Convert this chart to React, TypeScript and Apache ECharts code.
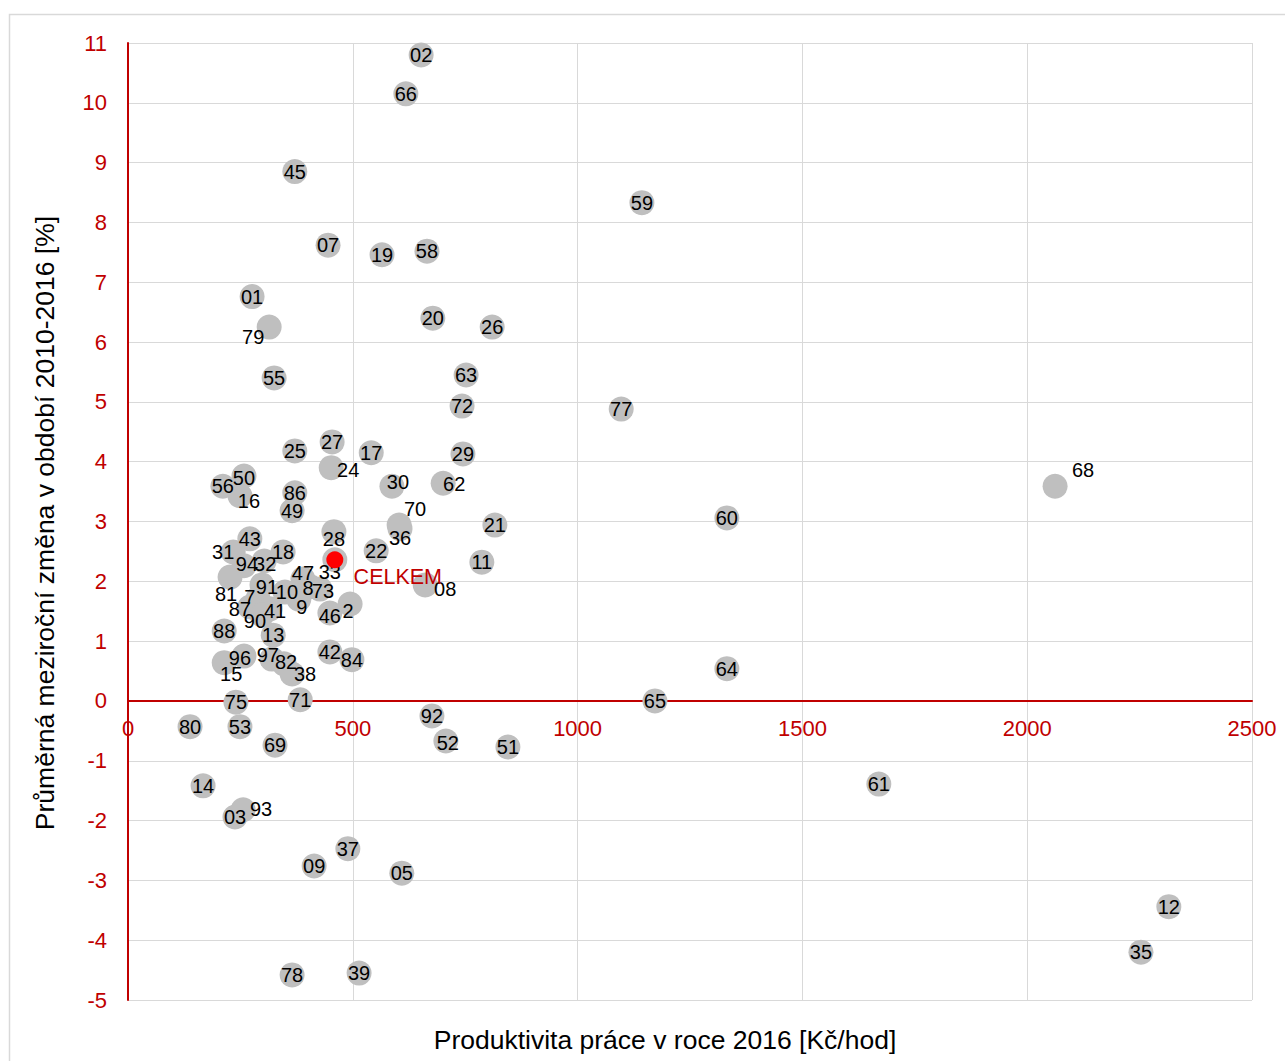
import React, { useEffect, useRef } from "react";
import * as echarts from "echarts";

// Region codes and values (x: productivity 2016 [Kč/hod], y: avg yearly change 2010-2016 [%])
const codes = [
  "02", "66", "45", "59", "07", "19", "58", "01", "79", "20", "26", "55", "63", "72", "77",
  "25", "27", "24", "17", "29", "50", "16", "56", "86", "49", "68", "30", "62", "70", "36",
  "21", "60", "28", "22", "43", "31", "94", "32", "18", "47", "33", "08", "11", "81", "91",
  "10", "8", "73", "7", "87", "41", "90", "9", "46", "2", "88", "13", "96", "15", "97",
  "82", "38", "42", "84", "75", "71", "80", "53", "69", "92", "52", "51", "65", "64", "14",
  "03", "93", "37", "09", "05", "61", "12", "35", "78", "39",
];
const xValues = [
  652, 618, 371, 1143, 445, 565, 665, 276, 314, 678, 810, 325, 752, 743, 1097,
  371, 454, 452, 541, 745, 258, 249, 211, 371, 365, 2062, 587, 701, 603, 605,
  816, 1332, 458, 552, 271, 234, 258, 303, 345, 389, 460, 661, 787, 227, 298,
  349, 405, 427, 289, 271, 316, 298, 380, 449, 494, 214, 323, 258, 214, 320,
  347, 365, 449, 498, 240, 383, 138, 249, 327, 676, 707, 845, 1172, 1332, 167,
  238, 256, 489, 414, 609, 1670, 2315, 2253, 365, 514,
];
const yValues = [
  10.8, 10.15, 8.85, 8.33, 7.62, 7.46, 7.52, 6.76, 6.25, 6.4, 6.25, 5.4, 5.45, 4.93, 4.88,
  4.18, 4.33, 3.9, 4.15, 4.13, 3.76, 3.43, 3.59, 3.48, 3.18, 3.59, 3.59, 3.64, 2.94, 2.88,
  2.94, 3.06, 2.83, 2.51, 2.71, 2.49, 2.26, 2.34, 2.49, 2.04, 2.36, 1.94, 2.32, 2.07, 1.94,
  1.82, 1.91, 1.87, 1.71, 1.57, 1.54, 1.44, 1.7, 1.47, 1.62, 1.17, 1.1, 0.75, 0.64, 0.7,
  0.62, 0.45, 0.82, 0.69, -0.02, 0.02, -0.43, -0.43, -0.74, -0.25, -0.67, -0.77, 0.0, 0.54, -1.42,
  -1.94, -1.82, -2.47, -2.76, -2.88, -1.39, -3.44, -4.2, -4.58, -4.55,
];
const totalLabel = "CELKEM";
const totalX = 460;
const totalY = 2.36;

const xTicks = { min: 0, max: 2500, interval: 500 };
const yTicks = { min: -5, max: 11, interval: 1 };

// label displacement (style only)
const labelOffsets: Record<string, [number, number]> = {
  "79": [-16, 10], "24": [17, 2], "50": [0, 2], "16": [9, 5], "68": [28, -16],
  "30": [6, -4], "62": [11, 1], "70": [16, -16], "36": [0, 9], "28": [0, 7],
  "31": [-10, 0], "94": [3, -2], "32": [1, 3], "47": [0, -6], "33": [-5, 12],
  "08": [20, 4], "81": [-4, 17], "91": [5, 2], "10": [2, 0], "8": [-2, 1],
  "73": [3, 2], "7": [-8, -2], "87": [-10, 2], "41": [5, 2], "90": [-7, 6],
  "9": [3, 8], "46": [0, 3], "2": [-2, 7], "96": [-4, 2], "15": [7, 11],
  "97": [-4, -4], "82": [2, -2], "38": [13, 0], "52": [2, 2], "93": [18, -1],
};

const RED = "#C00000";
const GRID = "#d9d9d9";
const FONT = "Liberation Sans, Arial, sans-serif";
const GRID_TOP = 43;
const GRID_BOTTOM = 61;
const HEIGHT = 1061;

export default function App() {
  const ref = useRef<HTMLDivElement>(null);
  useEffect(() => {
    if (!ref.current) return;
    const chart = echarts.init(ref.current, null, { renderer: "svg" });
    const points = codes.map((c, i) => ({
      value: [xValues[i], yValues[i], c],
      label: { offset: labelOffsets[c] || [0, 0] },
    }));
    const plotH = HEIGHT - GRID_TOP - GRID_BOTTOM;
    const zeroOffset = -((0 - yTicks.min) / (yTicks.max - yTicks.min)) * plotH;
    chart.setOption({
      animation: false,
      textStyle: { fontFamily: FONT },
      grid: { left: 128, top: GRID_TOP, right: 33, bottom: GRID_BOTTOM, containLabel: false },
      xAxis: [
        {
          type: "value",
          min: xTicks.min,
          max: xTicks.max,
          interval: xTicks.interval,
          axisLine: { show: false },
          axisTick: { show: false },
          axisLabel: { show: false },
          splitLine: { show: true, lineStyle: { color: GRID, width: 1 } },
        },
        {
          type: "value",
          position: "bottom",
          offset: zeroOffset,
          min: xTicks.min,
          max: xTicks.max,
          interval: xTicks.interval,
          axisLine: { show: true, onZero: false, lineStyle: { color: RED, width: 2 } },
          axisTick: { show: false },
          axisLabel: {
            color: RED,
            fontSize: 22,
            margin: 17,
            fontFamily: FONT,
            formatter: (v: number) => String(v),
          },
          splitLine: { show: false },
        },
      ],
      yAxis: {
        type: "value",
        min: yTicks.min,
        max: yTicks.max,
        interval: yTicks.interval,
        axisLine: { show: true, onZero: false, lineStyle: { color: RED, width: 2 } },
        axisTick: { show: false },
        axisLabel: {
          color: RED,
          fontSize: 22,
          margin: 21,
          fontFamily: FONT,
          formatter: (v: number) => String(v),
        },
        splitLine: { show: true, lineStyle: { color: GRID, width: 1 } },
      },
      graphic: [
        {
          type: "rect",
          shape: { x: 9.5, y: 14.5, width: 1300, height: 1100 },
          style: { fill: "none", stroke: GRID, lineWidth: 1.5 },
          silent: true,
          z: -10,
        },
        {
          type: "text",
          x: 665,
          y: 1040,
          style: {
            text: "Produktivita práce v roce 2016 [Kč/hod]",
            fontSize: 26.5,
            fontFamily: FONT,
            fill: "#000",
            align: "center",
            verticalAlign: "middle",
          },
        },
        {
          type: "text",
          x: 45,
          y: 523,
          rotation: Math.PI / 2,
          style: {
            text: "Průměrná meziroční změna v období 2010-2016 [%]",
            fontSize: 26.5,
            fontFamily: FONT,
            fill: "#000",
            align: "center",
            verticalAlign: "middle",
          },
        },
      ],
      series: [
        {
          type: "scatter",
          xAxisIndex: 0,
          symbolSize: 25,
          itemStyle: { color: "#BFBFBF", opacity: 1 },
          data: points,
          label: {
            show: true,
            position: "inside",
            formatter: (p: any) => p.value[2],
            color: "#000",
            fontSize: 20,
            fontFamily: FONT,
          },
          z: 2,
        },
        {
          type: "scatter",
          xAxisIndex: 0,
          symbolSize: 17,
          itemStyle: { color: "#FF0000", opacity: 1 },
          data: [{ value: [totalX, totalY, totalLabel] }],
          label: {
            show: true,
            position: "inside",
            offset: [63, 17],
            formatter: (p: any) => p.value[2],
            color: RED,
            fontSize: 21.5,
            fontFamily: FONT,
          },
          z: 3,
        },
      ],
    });
    return () => chart.dispose();
  }, []);
  return (
    <div
      ref={ref}
      style={{ position: "absolute", left: 0, top: 0, width: 1285, height: 1061, background: "#fff" }}
    />
  );
}
